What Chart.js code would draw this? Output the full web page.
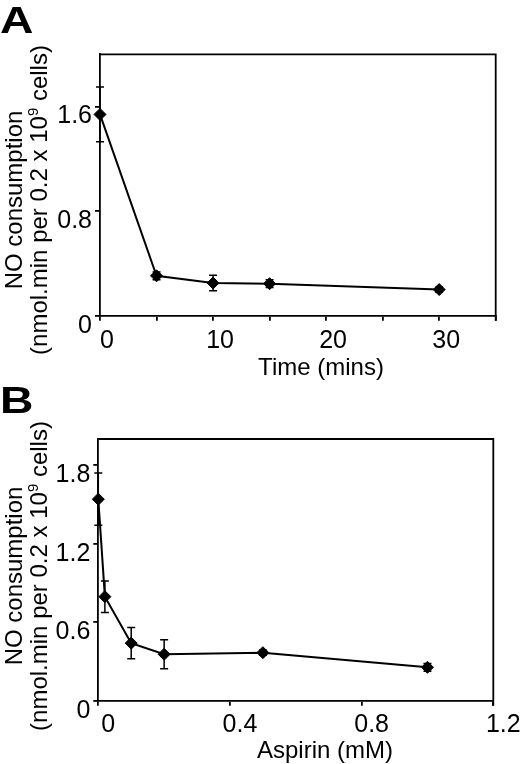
<!DOCTYPE html>
<html>
<head>
<meta charset="utf-8">
<script src="https://cdn.jsdelivr.net/npm/chart.js@4.4.1/dist/chart.umd.min.js"></script>
<style>
  body { margin: 0; background: #fff; }
  #wrap { position: relative; width: 520px; height: 764px; }
  canvas { position: absolute; left: 0; }
</style>
</head>
<body>
<div id="wrap">
  <canvas id="chart-a" width="520" height="380" style="top:0"></canvas>
  <canvas id="chart-b" width="520" height="384" style="top:380px"></canvas>
</div>
<script>
// Panel A - NO consumption vs time
const timeMins = [0, 5, 10, 15, 30];
const timeRate = [1.54, 0.305, 0.25, 0.245, 0.2];
const timeErr = [0.21, 0.03, 0.06, 0.03, 0.02];
const timeTicks = [0, 5, 10, 15, 20, 25, 30, 35];
const timeLabels = ['0', '', '10', '', '20', '', '30', ''];
const rateTicksA = [0, 0.8, 1.6];

// Panel B - NO consumption vs aspirin
const aspirinMM = [0, 0.02, 0.1, 0.2, 0.5, 1.0];
const aspirinRate = [1.54, 0.795, 0.44, 0.355, 0.367, 0.255];
const aspirinErr = [0.2, 0.12, 0.12, 0.11, 0.02, 0.03];
const aspirinTicks = [0, 0.4, 0.8, 1.2];
const aspirinLabels = ['0', '0.4', '0.8', '1.2'];
const rateTicksB = [0, 0.6, 1.2, 1.8];

const FONT = '"Liberation Sans", Arial, sans-serif';

// error bars drawn through the chart scales
const errorBars = {
    id: 'errorBars',
    afterDatasetsDraw(chart, args, opts) {
        const ctx = chart.ctx;
        const x = chart.scales.x;
        const y = chart.scales.y;
        const data = chart.data.datasets[0].data;
        ctx.save();
        ctx.strokeStyle = '#000';
        ctx.lineWidth = 1.5;
        data.forEach((p, i) => {
            const px = x.getPixelForValue(p.x);
            const top = y.getPixelForValue(p.y + opts.err[i]);
            const bot = y.getPixelForValue(p.y - opts.err[i]);
            ctx.beginPath();
            ctx.moveTo(px, top); ctx.lineTo(px, bot);
            ctx.moveTo(px - 4, top); ctx.lineTo(px + 4, top);
            ctx.moveTo(px - 4, bot); ctx.lineTo(px + 4, bot);
            ctx.stroke();
        });
        ctx.restore();
    }
};

// top and right edges of the frame
const frameBox = {
    id: 'frameBox',
    beforeDatasetsDraw(chart) {
        const { ctx, chartArea } = chart;
        ctx.save();
        ctx.strokeStyle = '#000';
        ctx.lineWidth = 1.8;
        ctx.beginPath();
        ctx.moveTo(chartArea.left, chartArea.top);
        ctx.lineTo(chartArea.right, chartArea.top);
        ctx.lineTo(chartArea.right, chartArea.bottom + 5);
        ctx.stroke();
        ctx.restore();
    }
};

function drawRotated(ctx, parts, baseX, centerY) {
    const big = '24px ' + FONT;
    const small = '15px ' + FONT;
    let total = 0;
    parts.forEach(p => {
        ctx.font = p.sup ? small : big;
        p.w = ctx.measureText(p.t).width;
        total += p.w;
    });
    ctx.save();
    ctx.translate(baseX, centerY);
    ctx.rotate(-Math.PI / 2);
    let pos = -total / 2;
    parts.forEach(p => {
        ctx.font = p.sup ? small : big;
        ctx.fillText(p.t, pos, p.sup ? -9 : 0);
        pos += p.w;
    });
    ctx.restore();
}

const panelText = {
    id: 'panelText',
    afterDraw(chart, args, o) {
        const ctx = chart.ctx;
        ctx.save();
        ctx.fillStyle = '#000';
        ctx.textAlign = 'left';
        ctx.textBaseline = 'alphabetic';

        // panel letter
        ctx.save();
        ctx.font = 'bold 37px ' + FONT;
        ctx.translate(0, o.letterBase);
        ctx.scale(1.25, 1);
        ctx.fillText(o.letter, 0, 0);
        ctx.restore();

        // x axis title
        ctx.font = '24px ' + FONT;
        ctx.textAlign = 'center';
        ctx.fillText(o.xTitle, o.xTitleX, o.xTitleBase);

        // y axis title, two lines
        ctx.textAlign = 'left';
        drawRotated(ctx, [{ t: 'NO consumption' }], 22, o.yTitleY);
        drawRotated(ctx, [{ t: '(nmol.min per 0.2 x 10' }, { t: '9', sup: true }, { t: ' cells)' }], 46.5, o.yTitleY);
        ctx.restore();
    }
};

function makeChart(id, s) {
    const ctx = document.getElementById(id).getContext('2d');
    return new Chart(ctx, {
        type: 'line',
        data: {
            datasets: [{
                data: s.xs.map((v, i) => ({ x: v, y: s.ys[i] })),
                borderColor: '#000',
                borderWidth: 2,
                backgroundColor: '#000',
                pointStyle: 'rectRot',
                pointRadius: 6,
                pointBorderWidth: 1,
                pointBorderColor: '#000',
                pointBackgroundColor: '#000',
                tension: 0,
                clip: false
            }]
        },
        options: {
            responsive: false,
            animation: false,
            layout: { padding: { left: 0, top: s.top, right: s.right, bottom: 0 } },
            plugins: {
                legend: { display: false },
                tooltip: { enabled: false },
                errorBars: { err: s.err },
                panelText: s.text
            },
            scales: {
                x: {
                    type: 'linear',
                    min: s.xTicks[0],
                    max: s.xTicks[s.xTicks.length - 1],
                    afterBuildTicks: sc => { sc.ticks = s.xTicks.map(v => ({ value: v })); },
                    afterFit: sc => { sc.height = s.xHeight; },
                    ticks: {
                        autoSkip: false,
                        maxRotation: 0,
                        color: '#000',
                        font: { size: 25, family: FONT },
                        padding: s.xPad,
                        labelOffset: s.xLabelOffset,
                        callback: (v, i) => s.xLabels[i]
                    },
                    grid: { drawOnChartArea: false, tickLength: 5, color: '#000', lineWidth: 1.8 },
                    border: { color: '#000', width: 1.8 }
                },
                y: {
                    type: 'linear',
                    min: 0,
                    max: 2,
                    afterBuildTicks: sc => { sc.ticks = s.yTicks.map(v => ({ value: v })); },
                    afterFit: sc => { sc.width = s.yWidth; },
                    ticks: {
                        color: '#000',
                        font: { size: 25, family: FONT },
                        padding: 3,
                        labelOffset: 10,
                        callback: v => String(v)
                    },
                    grid: { drawOnChartArea: false, tickLength: 5, color: '#000', lineWidth: 1.8 },
                    border: { color: '#000', width: 1.8 }
                }
            }
        },
        plugins: [frameBox, errorBars, panelText]
    });
}

makeChart('chart-a', {
    xs: timeMins, ys: timeRate, err: timeErr,
    xTicks: timeTicks, xLabels: timeLabels, yTicks: rateTicksA,
    top: 54.3, right: 24.3, xHeight: 64.3, yWidth: 100,
    xPad: 5, xLabelOffset: 7,
    text: { letter: 'A', letterBase: 32.5, xTitle: 'Time (mins)', xTitleX: 321, xTitleBase: 375, yTitleY: 200 }
});

makeChart('chart-b', {
    xs: aspirinMM, ys: aspirinRate, err: aspirinErr,
    xTicks: aspirinTicks, xLabels: aspirinLabels, yTicks: rateTicksB,
    top: 59, right: 26.7, xHeight: 63.3, yWidth: 98.3,
    xPad: 4, xLabelOffset: 10,
    text: { letter: 'B', letterBase: 33, xTitle: 'Aspirin (mM)', xTitleX: 325, xTitleBase: 378, yTitleY: 196 }
});
</script>
</body>
</html>
